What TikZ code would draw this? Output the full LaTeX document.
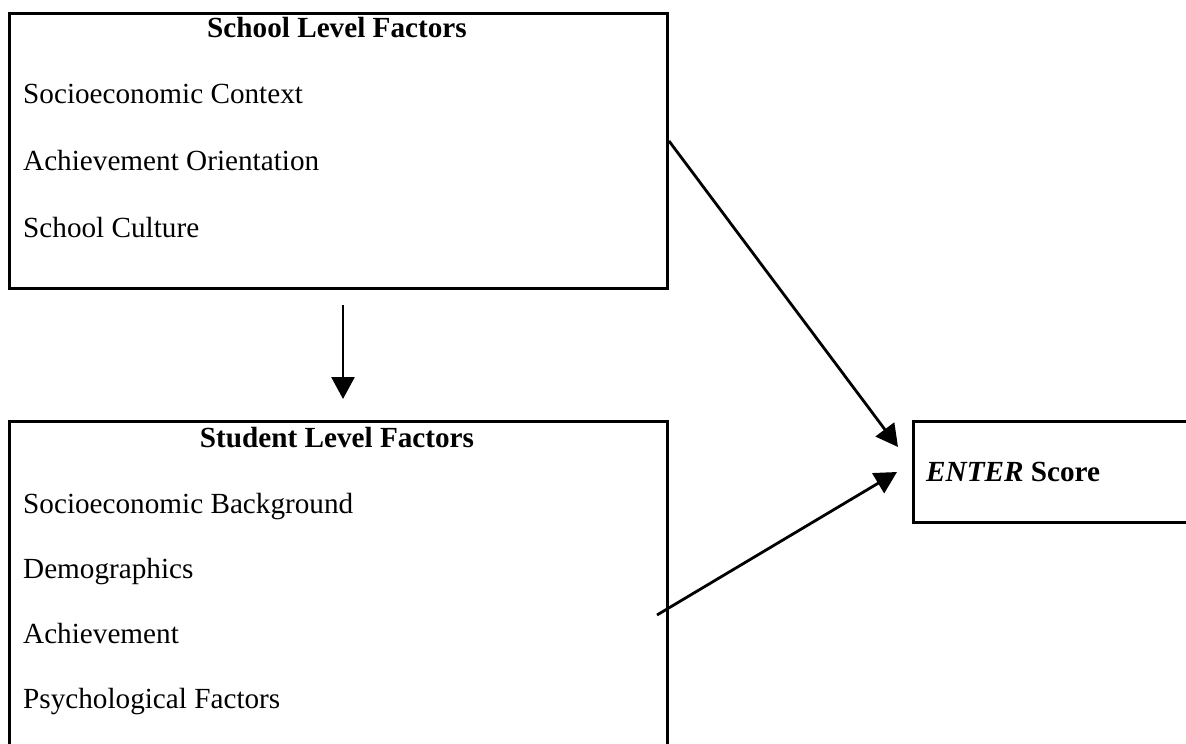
\documentclass[tikz,border=0pt]{standalone}
\usepackage{fontspec}
\setmainfont{Liberation Serif}
\usetikzlibrary{arrows.meta}
\begin{document}
\begin{tikzpicture}[x=1pt,y=-1pt,
  box/.style={draw,line width=2.6pt,inner sep=0pt},
  lbl/.style={anchor=base west,inner sep=0pt,font=\fontsize{29.2}{35}\selectfont},
  ttl/.style={anchor=base,inner sep=0pt,font=\fontsize{29.2}{35}\selectfont\bfseries},
  conn/.style={line width=2.8pt,-{Triangle[length=22pt,width=23pt]}}]
\useasboundingbox (0,0) rectangle (1186,744);
\begin{scope}
\clip (0,0) rectangle (1186,744);
\node[box,minimum width=658pt,minimum height=275pt,anchor=north west] (school) at (8,12) {};
\node[box,minimum width=658pt,minimum height=360pt,anchor=north west] (student) at (8,420) {};
\node[box,minimum width=300pt,minimum height=101pt,anchor=north west] (enter) at (912,420) {};
\end{scope}
\node[ttl] (t1) at (337,37) {School Level Factors};
\node[lbl] (a1) at (23,103) {Socioeconomic Context};
\node[lbl] (a2) at (23,170) {Achievement Orientation};
\node[lbl] (a3) at (23,237) {School Culture};
\node[ttl] (t2) at (337,447) {Student Level Factors};
\node[lbl] (b1) at (23,513) {Socioeconomic Background};
\node[lbl] (b2) at (23,578) {Demographics};
\node[lbl] (b3) at (23,643) {Achievement};
\node[lbl] (b4) at (23,708) {Psychological Factors};
\node[lbl,font=\fontsize{29.2}{35}\selectfont\bfseries] (e1) at (926,481) {\textit{ENTER} Score};
\coordinate (s1) at (669,141);
\coordinate (e1in) at (898,447);
\coordinate (s2) at (657,615);
\coordinate (e2in) at (897,472);
\coordinate (d1) at (343,305);
\coordinate (d2) at (343,399);
\draw[conn] (s1) -- (e1in);
\draw[conn] (s2) -- (e2in);
\draw[conn] (d1) -- (d2);
\end{tikzpicture}
\end{document}
